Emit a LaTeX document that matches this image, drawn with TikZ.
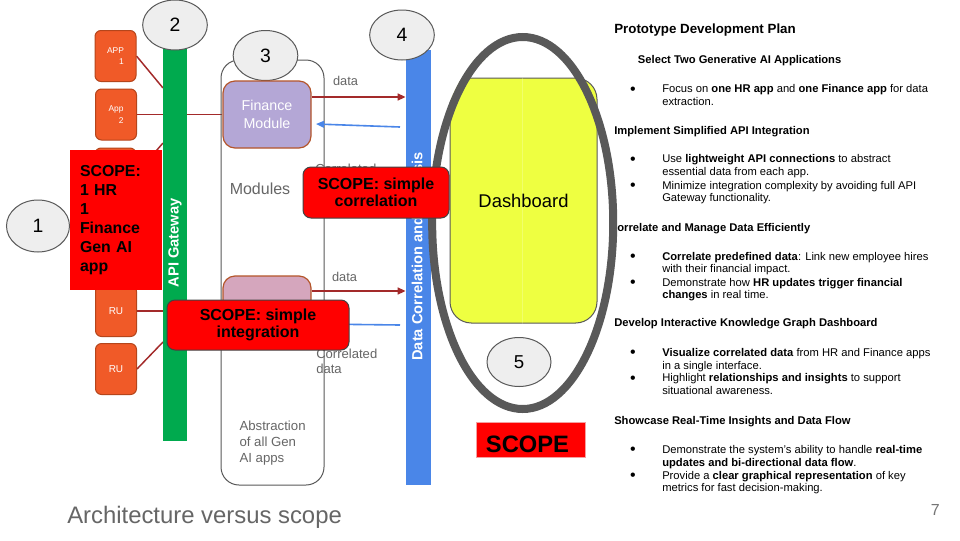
\documentclass[tikz,border=0pt]{standalone}
\usepackage{fontspec}
\setmainfont{Liberation Sans}
\usetikzlibrary{shapes.geometric,arrows.meta,calc}
\pgfdeclarelayer{back}
\pgfdeclarelayer{bg}
\pgfsetlayers{back,bg,main}
\definecolor{apporange}{HTML}{F05A28}
\definecolor{appborder}{HTML}{B5451B}
\definecolor{gwgreen}{HTML}{00AA4E}
\definecolor{dcblue}{HTML}{4A86E8}
\definecolor{arrblue}{HTML}{4A86E8}
\definecolor{connred}{HTML}{A32A2A}
\definecolor{finpurple}{HTML}{B4A7D6}
\definecolor{pinkmod}{HTML}{D5A6BD}
\definecolor{modborder}{HTML}{B4552A}
\definecolor{numfill}{HTML}{EEEEEE}
\definecolor{gline}{HTML}{595959}
\definecolor{graytext}{HTML}{666666}
\definecolor{dashyellow}{HTML}{EEFF41}
\definecolor{bigell}{HTML}{595959}
\definecolor{scopeborder}{HTML}{434343}
\definecolor{scoperedborder}{HTML}{F4A0A0}
\definecolor{pagenum}{HTML}{757575}
\tikzset{
  numell/.style={ellipse, draw=gline, fill=numfill, line width=0.75pt, minimum width=48.5pt, minimum height=37.5pt, inner sep=0pt, font=\fontsize{14.5}{16}\selectfont},
  appbox/.style={rectangle, rounded corners=4.5pt, draw=appborder, fill=apporange, line width=0.75pt, minimum width=30.75pt, minimum height=38.25pt, inner sep=0pt, text=white, align=right, font=\fontsize{6.3}{8.7}\selectfont},
  conn/.style={draw=connred, line width=1.1pt},
  redarr/.style={draw=connred, line width=1.5pt, -{Triangle[length=6pt,width=5pt]}},
  bluearr/.style={draw=arrblue, line width=1.2pt, {Triangle[length=6pt,width=5pt]}-},
  modbox/.style={rectangle, rounded corners=9pt, draw=modborder, line width=0.9pt, minimum width=66pt, minimum height=50.25pt, inner sep=0pt, text=white, align=center, font=\fontsize{10.7}{13}\selectfont},
  scopebox/.style={rectangle, rounded corners=6pt, draw=scopeborder, fill=red, line width=0.75pt, inner sep=0pt, align=center, font=\bfseries\fontsize{12}{13}\selectfont},
  graytxt/.style={text=graytext, inner sep=0pt},
  dashbox/.style={fill=dashyellow, draw=gline, line width=0.75pt, rounded corners=16pt},
  rt/.style={anchor=base west, inner sep=0pt, font=\fontsize{8.4}{10}\selectfont},
  rh/.style={anchor=base west, inner sep=0pt, font=\bfseries\fontsize{8.4}{10}\selectfont},
  bul/.style={anchor=base, inner sep=0pt, font=\fontsize{12}{13}\selectfont},
  vlabel/.style={rotate=90, anchor=west, text=white, inner sep=0pt, font=\bfseries\fontsize{11}{13}\selectfont},
}
\begin{document}
\begin{tikzpicture}[x=0.75pt,y=-0.75pt]
\useasboundingbox (0,0) rectangle (960,540);
\begin{pgfonlayer}{back}
\fill[white] (0,0) rectangle (960,540);
\end{pgfonlayer}

% ---------- apps ----------
\node[appbox] (app1) at (115.5,56) {APP\\1};
\node[appbox] (app2) at (116,114.5) {App\\2};
\node[appbox] (app3) at (115.5,173.5) {};
\node[appbox, font=\fontsize{7.5}{9}\selectfont] (ru1) at (116,311) {RU};
\node[appbox, font=\fontsize{7.5}{9}\selectfont] (ru2) at (116,369) {RU};

% ---------- API gateway ----------
\node[rectangle, fill=gwgreen, minimum width=18pt, minimum height=297pt, inner sep=0pt] (gw) at (174.5,243) {};
\node[vlabel] (gwlabel) at (175,287.5) {API Gateway};
\node[numell] (n2) at (175,25) {2};

% ---------- modules ----------
\node[rectangle, rounded corners=13.5pt, draw=gline, line width=0.75pt, minimum width=77.25pt, minimum height=318.75pt, inner sep=0pt] (mods) at (272.5,272.5) {};
\node[numell] (n3) at (265.5,55.5) {3};
\node[modbox, fill=finpurple] (fin) at (267,114.5) {Finance\\Module};
\node[modbox, fill=pinkmod] (pink) at (267,309.5) {};
\node[graytxt, font=\fontsize{12}{14}\selectfont] (modlbl) at (260,189) {Modules};
\node[graytxt, anchor=north west, align=left, font=\fontsize{9.9}{12}\selectfont] (abstr) at (239.3,421) {Abstraction\\of all Gen\\AI apps};
\node[graytxt, anchor=base, font=\fontsize{9.6}{11}\selectfont] (data1) at (345.5,85) {data};
\node[graytxt, anchor=base, font=\fontsize{9.6}{11}\selectfont] (data2) at (344.5,281.7) {data};
\node[graytxt, anchor=north west, align=left, font=\fontsize{9.8}{11.25}\selectfont] (corr1) at (315,163.5) {Correlated\\data};
\node[graytxt, anchor=north west, align=left, font=\fontsize{9.8}{11.25}\selectfont] (corr2) at (316,348.8) {Correlated\\data};

% ---------- data correlation bar ----------
\node[rectangle, fill=dcblue, minimum width=18.75pt, minimum height=326.25pt, inner sep=0pt] (dc) at (418.5,267.5) {};
\node[vlabel] (dclabel) at (418.5,361) {Data Correlation and Analysis};
\node[numell] (n4) at (402,35) {4};

% ---------- connectors ----------
\begin{pgfonlayer}{bg}
\coordinate (gwa) at (163,88);
\coordinate (gwc) at (163,143);
\coordinate (gwe) at (163,342);
\draw[conn] (app1.east) -- (gwa);
\draw[conn] (app2.east) -- (fin.west);
\draw[conn] (app3.east) -- (gwc);
\draw[conn] (ru1.east) -- (ru1.east -| pink.west);
\draw[conn] (ru2.east) -- (gwe);
\end{pgfonlayer}
\coordinate (ya) at (0,97);
\coordinate (yb) at (0,291);
\coordinate (b1s) at (400,127);
\coordinate (b1e) at (316,124);
\coordinate (b2s) at (400,325);
\coordinate (b2e) at (316,324);
\draw[redarr] (fin.east |- ya) -- (dc.west |- ya);
\draw[bluearr] (b1e) -- (b1s);
\draw[redarr] (pink.east |- yb) -- (dc.west |- yb);
\draw[bluearr] (b2e) -- (b2s);

% ---------- right text ----------
\node[rh, font=\bfseries\fontsize{10}{12}\selectfont] (h0) at (614,33) {Prototype Development Plan};
\node[rh] (h1) at (637.7,63) {Select Two Generative AI Applications};
\node[bul] (d1) at (633,94) {•};
\node[rt] (l1a) at (662,92.7) {Focus on \textbf{one HR app} and \textbf{one Finance app} for data};
\node[rt] (l1b) at (662,105) {extraction.};
\node[rh] (h2) at (614,134) {Implement Simplified API Integration};
\node[bul] (d2) at (633,164) {•};
\node[rt] (l2a) at (662,162.7) {Use \textbf{lightweight API connections} to abstract};
\node[rt] (l2b) at (662,175.7) {essential data from each app.};
\node[bul] (d3) at (633,190.3) {•};
\node[rt] (l3a) at (662,189) {Minimize integration complexity by avoiding full API};
\node[rt] (l3b) at (662,201.7) {Gateway functionality.};
\node[rh] (h3) at (609,231) {Correlate and Manage Data Efficiently};
\node[bul] (d4) at (633,261.3) {•};
\node[rt] (l4a) at (662,260) {\textbf{Correlate predefined data}: Link new employee hires};
\node[rt] (l4b) at (662,272.7) {with their financial impact.};
\node[bul] (d5) at (633,287.3) {•};
\node[rt] (l5a) at (662,286) {Demonstrate how \textbf{HR updates trigger financial}};
\node[rt] (l5b) at (662,298.3) {\textbf{changes} in real time.};
\node[rh] (h4) at (614,326.7) {Develop Interactive Knowledge Graph Dashboard};
\node[bul] (d6) at (633,357.3) {•};
\node[rt] (l6a) at (662,356) {\textbf{Visualize correlated data} from HR and Finance apps};
\node[rt] (l6b) at (662,369.3) {in a single interface.};
\node[bul] (d7) at (633,383) {•};
\node[rt] (l7a) at (662,381.7) {Highlight \textbf{relationships and insights} to support};
\node[rt] (l7b) at (662,394.3) {situational awareness.};
\node[rh] (h5) at (614,424) {Showcase Real-Time Insights and Data Flow};
\node[bul] (d8) at (633,454.6) {•};
\node[rt] (l8a) at (662,453.3) {Demonstrate the system’s ability to handle \textbf{real-time}};
\node[rt] (l8b) at (662,466) {\textbf{updates and bi-directional data flow}.};
\node[bul] (d9) at (633,480.3) {•};
\node[rt] (l9a) at (662,479) {Provide a \textbf{clear graphical representation} of key};
\node[rt] (l9b) at (662,491.7) {metrics for fast decision-making.};

% ---------- dashboard ----------
\begin{scope}
\clip (0,0) rectangle (522.7,540);
\clip (522.7,223) ellipse [x radius=70.9pt, y radius=142.5pt];
\filldraw[dashbox] (450,78) rectangle (597,323);
\end{scope}
\begin{scope}
\clip (522.7,0) rectangle (960,540);
\filldraw[dashbox] (450,78) rectangle (597,323);
\end{scope}
\node[inner sep=0pt, font=\fontsize{13.8}{16}\selectfont] (dash) at (523.5,200.5) {Dashboard};
\draw[draw=bigell, line width=6pt] (522.7,223) ellipse [x radius=67.9pt, y radius=139.5pt];
\node[numell, minimum width=48pt, minimum height=36.75pt, font=\fontsize{14}{16}\selectfont] (n5) at (519,362) {5};

\node[rectangle, fill=red, draw=scoperedborder, line width=0.75pt, minimum width=81.75pt, minimum height=26.25pt, inner sep=0pt] (scopebig) at (530.5,439.5) {};
\node[inner sep=0pt, font=\bfseries\fontsize{17.8}{20}\selectfont] (scopetxt) at (527.5,444) {SCOPE};

% ---------- scope overlays ----------
\node[scopebox, minimum width=109.5pt, minimum height=38.25pt] (scorr) at (376,192.5) {SCOPE: simple\\correlation};
\node[scopebox, minimum width=136.5pt, minimum height=37.5pt] (sint) at (258,325) {SCOPE: simple\\integration};
\node[rectangle, fill=red, minimum width=69pt, minimum height=105pt, inner xsep=7.5pt, inner ysep=0pt, text width=54pt, align=left, font=\bfseries\fontsize{11.9}{14.25}\selectfont] (s1) at (116,220) {SCOPE:\\1 HR\\1\\Finance\\Gen AI\\app};
\node[numell, minimum width=47.25pt, minimum height=39pt] (n1) at (38,226) {1};

% ---------- title & page number ----------
\node[anchor=base west, inner sep=0pt, text=graytext, font=\fontsize{17.9}{20}\selectfont] (title) at (67,523) {Architecture versus scope};
\node[anchor=base east, inner sep=0pt, text=pagenum, font=\fontsize{12}{14}\selectfont] (pnum) at (940,515) {7};
\end{tikzpicture}
\end{document}
